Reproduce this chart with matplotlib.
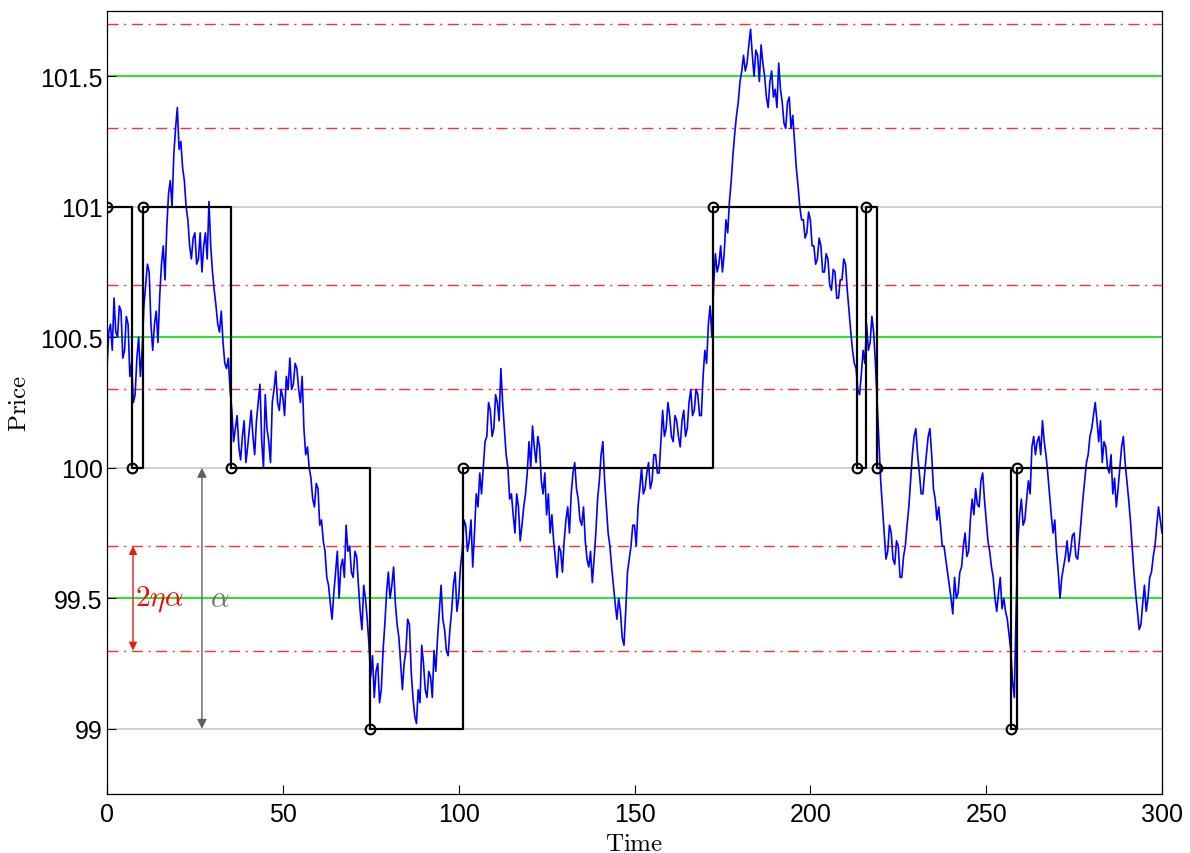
import numpy as np
import matplotlib
matplotlib.use("Agg")
import matplotlib.pyplot as plt

plt.rcParams['mathtext.fontset'] = 'cm'
plt.rcParams['font.family'] = ['Liberation Sans', 'DejaVu Sans']

# price path at whole time units (t = 0..300)
price = [
    100.38, 100.55, 100.65, 100.50, 100.60, 100.45, 100.55, 100.40, 100.28, 100.50,
    100.45, 100.70, 100.75, 100.45, 100.60, 100.66, 100.85, 100.92, 101.10, 101.20,
    101.38, 101.25, 101.10, 100.95, 100.80, 100.90, 100.80, 100.75, 100.90, 101.02,
    100.75, 100.62, 100.52, 100.48, 100.38, 100.30, 100.10, 100.20, 100.03, 100.18,
    100.08, 100.22, 100.05, 100.25, 100.10, 100.28, 100.10, 100.25, 100.37, 100.22,
    100.27, 100.35, 100.42, 100.32, 100.38, 100.25, 100.15, 100.08, 99.96, 99.85,
    99.92, 99.80, 99.68, 99.55, 99.42, 99.60, 99.50, 99.65, 99.78, 99.70,
    99.58, 99.66, 99.45, 99.55, 99.42, 99.20, 99.12, 99.25, 99.15, 99.40,
    99.60, 99.55, 99.48, 99.35, 99.15, 99.30, 99.40, 99.12, 99.02, 99.10,
    99.25, 99.12, 99.20, 99.30, 99.35, 99.55, 99.38, 99.28, 99.45, 99.60,
    99.50, 99.68, 99.78, 99.72, 99.62, 99.90, 99.98, 100.00, 100.12, 100.22,
    100.15, 100.25, 100.38, 100.15, 100.00, 99.90, 99.75, 99.85, 99.78, 99.90,
    100.10, 100.16, 100.02, 100.08, 99.90, 99.82, 99.75, 99.72, 99.58, 99.68,
    99.72, 99.85, 99.90, 100.02, 99.88, 99.78, 99.72, 99.62, 99.56, 99.75,
    99.95, 100.10, 99.85, 99.70, 99.55, 99.42, 99.45, 99.32, 99.60, 99.70,
    99.78, 99.85, 100.00, 99.92, 100.02, 99.95, 100.05, 99.98, 100.22, 100.15,
    100.20, 100.10, 100.18, 100.08, 100.22, 100.15, 100.30, 100.22, 100.28, 100.20,
    100.45, 100.55, 100.50, 100.82, 100.78, 100.75, 100.95, 101.02, 101.20, 101.35,
    101.48, 101.58, 101.55, 101.68, 101.50, 101.58, 101.62, 101.50, 101.38, 101.52,
    101.45, 101.55, 101.40, 101.30, 101.42, 101.35, 101.15, 101.00, 100.95, 100.90,
    100.95, 100.85, 100.80, 100.85, 100.75, 100.80, 100.68, 100.75, 100.65, 100.72,
    100.78, 100.60, 100.45, 100.38, 100.28, 100.45, 100.55, 100.48, 100.52, 100.25,
    99.95, 99.75, 99.68, 99.75, 99.63, 99.70, 99.58, 99.70, 99.85, 100.05,
    100.15, 99.98, 99.90, 100.05, 100.15, 99.92, 99.80, 99.78, 99.70, 99.60,
    99.50, 99.58, 99.52, 99.62, 99.75, 99.68, 99.88, 99.92, 99.85, 99.98,
    99.80, 99.68, 99.58, 99.45, 99.58, 99.50, 99.42, 99.30, 99.12, 99.72,
    99.88, 99.80, 99.95, 100.08, 100.05, 100.12, 100.18, 100.05, 99.90, 99.75,
    99.68, 99.50, 99.62, 99.72, 99.68, 99.75, 99.65, 99.80, 99.95, 100.05,
    100.15, 100.25, 100.10, 100.02, 100.08, 99.98, 99.90, 99.85, 100.00, 100.12,
    99.95, 99.80, 99.60, 99.45, 99.40, 99.55, 99.50, 99.60, 99.70, 99.85,
    99.75,
]

# the same path at the half units in between (t = 0.5..299.5), the other side of the jitter
price_half = [
    100.52, 100.45, 100.52, 100.62, 100.42, 100.58, 100.35, 100.25, 100.42, 100.35,
    100.62, 100.78, 100.55, 100.55, 100.48, 100.78, 100.72, 101.05, 101.00, 101.30,
    101.22, 101.15, 101.00, 100.85, 100.88, 100.78, 100.90, 100.85, 100.80, 100.85,
    100.68, 100.55, 100.60, 100.40, 100.42, 100.22, 100.15, 100.08, 100.12, 100.02,
    100.15, 100.12, 100.18, 100.32, 100.00, 100.15, 100.02, 100.30, 100.25, 100.30,
    100.20, 100.30, 100.30, 100.40, 100.30, 100.35, 100.05, 100.00, 99.88, 99.94,
    99.78, 99.72, 99.58, 99.48, 99.52, 99.68, 99.62, 99.58, 99.68, 99.60,
    99.68, 99.55, 99.38, 99.50, 99.32, 99.28, 99.22, 99.10, 99.30, 99.52,
    99.50, 99.62, 99.40, 99.25, 99.25, 99.42, 99.22, 99.05, 99.15, 99.32,
    99.15, 99.22, 99.12, 99.22, 99.45, 99.42, 99.30, 99.38, 99.55, 99.45,
    99.62, 99.80, 99.68, 99.80, 99.75, 99.85, 99.90, 100.10, 100.25, 100.12,
    100.28, 100.18, 100.25, 100.05, 99.88, 99.82, 99.90, 99.72, 99.85, 99.98,
    100.00, 100.08, 100.12, 99.95, 99.98, 99.90, 99.82, 99.65, 99.70, 99.60,
    99.80, 99.75, 99.98, 99.92, 99.80, 99.85, 99.65, 99.68, 99.65, 99.88,
    100.05, 99.95, 99.75, 99.62, 99.48, 99.50, 99.35, 99.45, 99.65, 99.78,
    99.70, 99.92, 99.90, 99.98, 99.92, 100.05, 99.98, 100.10, 100.12, 100.25,
    100.12, 100.20, 100.12, 100.18, 100.12, 100.25, 100.20, 100.30, 100.20, 100.35,
    100.40, 100.62, 100.70, 100.75, 100.85, 100.82, 100.90, 101.10, 101.28, 101.40,
    101.52, 101.52, 101.62, 101.58, 101.60, 101.48, 101.55, 101.42, 101.48, 101.42,
    101.38, 101.45, 101.32, 101.40, 101.30, 101.25, 101.08, 100.95, 100.88, 100.98,
    100.85, 100.78, 100.88, 100.75, 100.82, 100.70, 100.76, 100.65, 100.72, 100.80,
    100.68, 100.52, 100.40, 100.30, 100.36, 100.40, 100.45, 100.58, 100.40, 100.10,
    99.85, 99.65, 99.78, 99.65, 99.72, 99.58, 99.66, 99.78, 99.95, 100.12,
    100.05, 99.90, 99.98, 100.12, 100.05, 99.88, 99.85, 99.70, 99.65, 99.55,
    99.44, 99.50, 99.60, 99.70, 99.66, 99.80, 99.82, 99.86, 99.95, 99.88,
    99.72, 99.62, 99.50, 99.52, 99.46, 99.45, 99.36, 99.18, 99.45, 99.82,
    99.78, 99.88, 99.90, 100.12, 100.10, 100.05, 100.10, 99.98, 99.82, 99.80,
    99.60, 99.58, 99.66, 99.64, 99.74, 99.66, 99.72, 99.88, 100.02, 100.12,
    100.20, 100.18, 100.18, 100.10, 100.00, 100.05, 99.96, 99.92, 100.08, 100.02,
    99.88, 99.70, 99.52, 99.38, 99.48, 99.45, 99.58, 99.66, 99.78, 99.80,
]

# quantized (step) price: switch times and the level held after each switch
switch_t = [0, 7.2, 10.3, 35.4, 74.8, 101.1, 172.4, 213.2, 215.7, 219.0, 257.0, 258.8]
switch_level = [101, 100, 101, 100, 99, 100, 101, 100, 101, 100, 99, 100]
t_end = 300

grid_levels = [99, 100, 101]
mid_levels = [99.5, 100.5, 101.5]
band_levels = [99.3, 99.7, 100.3, 100.7, 101.3, 101.7]

# interleave whole and half units into one path
t_path, p_path = [], []
for i, p in enumerate(price):
    t_path.append(i)
    p_path.append(p)
    if i < len(price_half):
        t_path.append(i + 0.5)
        p_path.append(price_half[i])

fig = plt.figure(figsize=(11.9, 8.54), dpi=100)
ax = fig.add_axes([0.0899, 0.069, 0.8866, 0.917])

for lv in grid_levels:
    ax.axhline(lv, color='#c8c8c8', lw=1.2, zorder=1)
for lv in mid_levels:
    ax.axhline(lv, color='#00e000', lw=1.2, zorder=1)
for lv in band_levels:
    ax.axhline(lv, color='#ff3030', lw=1.0, ls='-.', dashes=(8, 4, 1.5, 4), zorder=1)

ax.plot(t_path, p_path, color='#0000ff', lw=1.2, zorder=2)

# step path
st = list(switch_t) + [t_end]
sx, sy = [], []
for i, lv in enumerate(switch_level):
    sx += [st[i], st[i + 1]]
    sy += [lv, lv]
ax.plot(sx, sy, color='black', lw=1.6, zorder=3)
ax.plot(switch_t, switch_level, 'o', mfc='none', mec='black', ms=7, mew=1.5, zorder=4)

# annotations
ax.annotate('', xy=(7.4, 99.7), xytext=(7.4, 99.3),
            arrowprops=dict(arrowstyle='<|-|>', color='#e02010', lw=1.0,
                            mutation_scale=12, shrinkA=0, shrinkB=0), zorder=5)
ax.text(8.0, 99.5, r'$2\eta\alpha$', color='red', fontsize=21, va='center', ha='left')
ax.annotate('', xy=(27, 100), xytext=(27, 99),
            arrowprops=dict(arrowstyle='<|-|>', color='#606060', lw=1.0,
                            mutation_scale=14, shrinkA=0, shrinkB=0), zorder=5)
ax.text(29.2, 99.5, r'$\alpha$', color='#707070', fontsize=21, va='center', ha='left')

ax.set_xlim(0, 300)
ax.set_ylim(98.75, 101.75)
ax.set_xticks([0, 50, 100, 150, 200, 250, 300])
ax.set_yticks([99, 99.5, 100, 100.5, 101, 101.5])
ax.set_yticklabels(['99', '99.5', '100', '100.5', '101', '101.5'])
ax.tick_params(direction='in', length=6.5, width=0.8, labelsize=18)
ax.tick_params(axis='x', pad=6)
ax.tick_params(axis='y', pad=3)
for s in ax.spines.values():
    s.set_linewidth(0.9)

ax.set_xlabel(r'$\mathrm{Time}$', fontsize=18)
ax.set_ylabel(r'$\mathrm{Price}$', fontsize=18)
ax.xaxis.set_label_coords(0.5, -0.047)
ax.yaxis.set_label_coords(-0.072, 0.5)

fig.savefig('out.png', dpi=100)
